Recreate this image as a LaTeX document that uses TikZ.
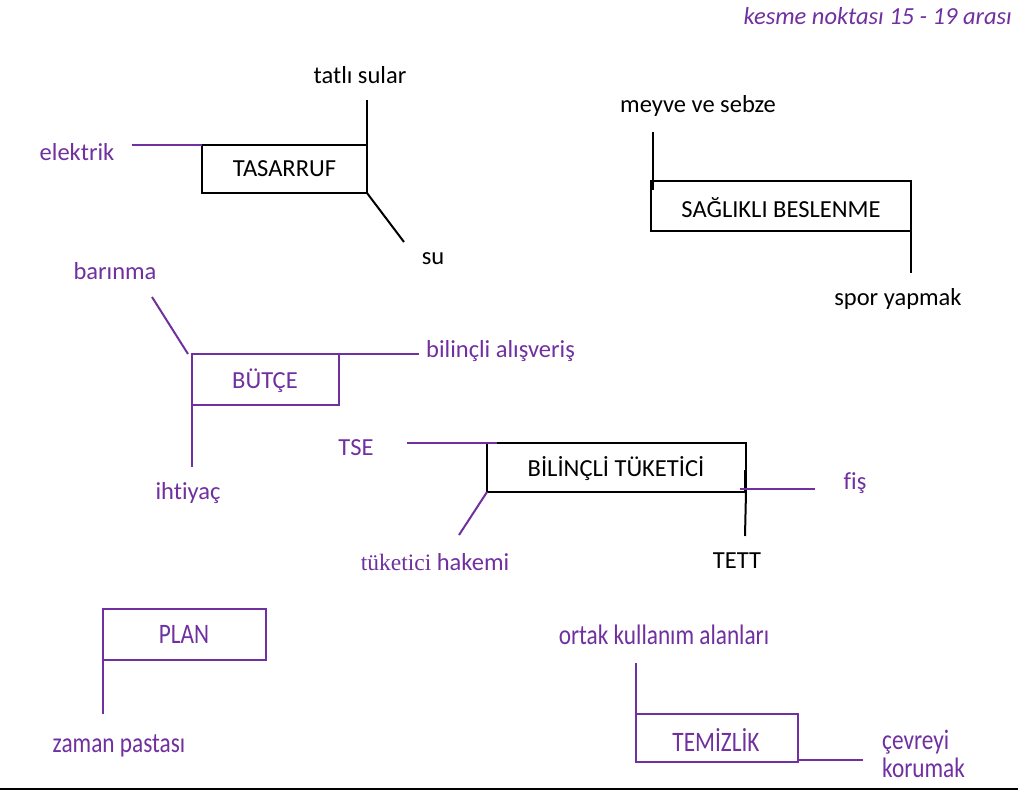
\documentclass[tikz,border=0pt]{standalone}
\usepackage{fontspec}
\setmainfont{Carlito}[Ligatures=CommonOff]
\newfontfamily\serifpart{Liberation Serif}[Ligatures=CommonOff]
\definecolor{mor}{HTML}{7030A0}
\begin{document}
\begin{tikzpicture}[x=1pt,y=-1pt,
  lbl/.style={inner sep=0pt,font=\fontsize{24.5}{28}\selectfont},
  plbl/.style={lbl,text=mor},
  blackbox/.style={draw=black,line width=2pt,inner sep=0pt,outer sep=0pt},
  purplebox/.style={draw=mor,line width=2pt,inner sep=0pt,outer sep=0pt,text=mor},
  blk/.style={draw=black,line width=2pt},
  prp/.style={draw=mor,line width=2pt}]
\useasboundingbox (0,0) rectangle (1018,792);
\fill[white] (0,0) rectangle (1018,792);

% heading
\node[plbl,anchor=east,font=\fontsize{24.5}{28}\selectfont\itshape] (head) at (1012,16) {kesme noktası 15 - 19 arası};

% TASARRUF
\node[blackbox,minimum width=165pt,minimum height=48pt] (tas) at (284.5,169) {};
\node[lbl] (tastxt) at (284.5,169) {TASARRUF};
\coordinate (elA) at (132,145);
\coordinate (tsA) at (367,100);
\coordinate (suA) at (404,242);
\node[plbl] (elektrik) at (77,152) {elektrik};
\node[lbl] (tatli) at (360,75) {tatlı sular};
\node[lbl] (su) at (433,259) {su};
\draw[prp] (elA) -- (tas.north west);
\draw[blk] (tsA) -- (tas.north east);
\draw[blk] (tas.south east) -- (suA);

% SAGLIKLI BESLENME
\node[blackbox,minimum width=260pt,minimum height=50pt] (sag) at (781,206) {};
\node[lbl] (sagtxt) at (781,208) {SAĞLIKLI BESLENME};
\coordinate (myA) at (653,132);
\coordinate (spA) at (911,273);
\node[lbl] (meyve) at (698,106) {meyve ve sebze};
\node[lbl] (spor) at (898,299) {spor yapmak};
\draw[blk] (myA) -- (653,190);
\draw[blk] (sag.south east) -- (spA);

% BUTCE
\node[purplebox,minimum width=147pt,minimum height=51pt] (but) at (265.5,379.5) {};
\node[plbl] (buttxt) at (265,381) {BÜTÇE};
\coordinate (barA) at (152,297);
\coordinate (bilA) at (419,354);
\coordinate (ihA) at (192,467);
\node[plbl] (barinma) at (115,271) {barınma};
\node[plbl,anchor=west] (alis) at (426,351) {bilinçli alışveriş};
\node[plbl] (ihtiyac) at (188,493) {ihtiyaç};
\draw[prp] (barA) -- (188,354);
\draw[prp] (but.north east) -- (bilA);
\draw[prp] (but.south west) -- (ihA);

% BILINCLI TUKETICI
\node[blackbox,minimum width=259pt,minimum height=49pt] (bt) at (616.5,467.5) {};
\node[lbl] (bttxt) at (616,469) {BİLİNÇLİ TÜKETİCİ};
\coordinate (tseA) at (407,443);
\coordinate (hkA) at (459,535);
\coordinate (fisA) at (815,489);
\coordinate (tettA) at (745,536);
\node[plbl] (tse) at (356,448) {TSE};
\node[plbl] (hakem) at (435,562) {{\serifpart\fontsize{23.5}{28}\selectfont tüketici} hakemi};
\node[plbl] (fis) at (855,483) {fiş};
\node[lbl] (tett) at (737,561) {TETT};
\draw[prp] (tseA) -- (497,443);
\draw[prp] (bt.south west) -- (hkA);
\draw[blk] (745,470) -- (745,492);
\draw[prp] (740,489) -- (fisA);
\draw[blk] (bt.south east) -- (tettA);

% PLAN
\node[purplebox,minimum width=163pt,minimum height=51pt] (plan) at (184.5,634.5) {};
\node[plbl,xscale=0.95,yscale=1.15] (plantxt) at (184,634) {PLAN};
\coordinate (zpA) at (103,714);
\node[plbl,xscale=0.95,yscale=1.15] (zaman) at (119,746) {zaman pastası};
\draw[prp] (plan.south west) -- (zpA);

% TEMIZLIK
\node[purplebox,minimum width=162pt,minimum height=48pt] (tem) at (717,738) {};
\node[plbl,xscale=0.95,yscale=1.15] (temtxt) at (716,740) {TEMİZLİK};
\coordinate (okA) at (636,663);
\coordinate (cvA) at (863,760);
\node[plbl,xscale=0.95,yscale=1.15] (ortak) at (664,635) {ortak kullanım alanları};
\node[plbl,xscale=0.95,yscale=1.15,anchor=west] (cevre) at (882,742) {çevreyi};
\node[plbl,xscale=0.95,yscale=1.15,anchor=west] (koru) at (882,768) {korumak};
\draw[prp] (okA) -- (tem.north west);
\draw[prp] (tem.south east |- cvA) -- (cvA);

% base rule
\draw[blk,line width=1.5pt] (0,789) -- (1018,789);
\end{tikzpicture}
\end{document}
